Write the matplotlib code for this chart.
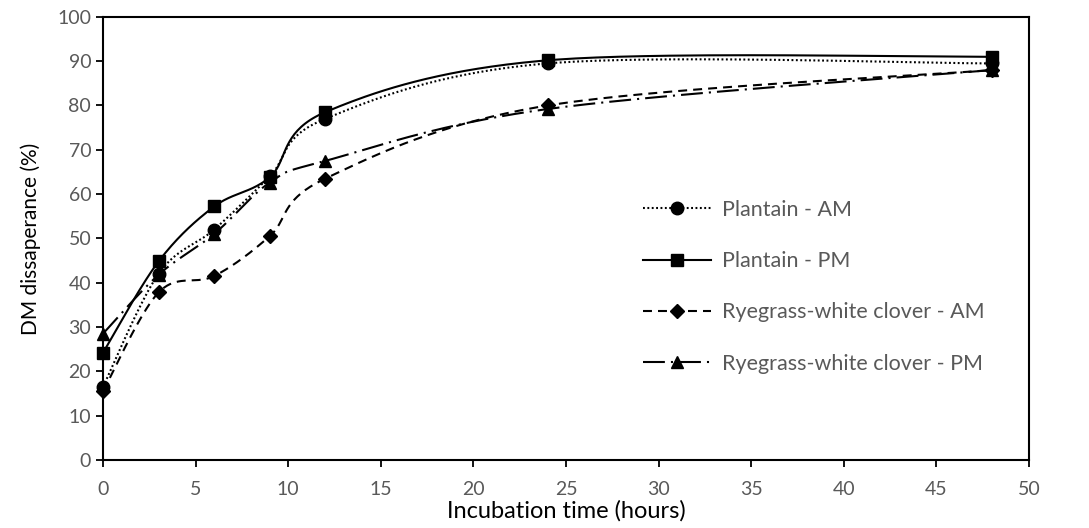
import numpy as np
import matplotlib
matplotlib.use("Agg")
import matplotlib.pyplot as plt
from matplotlib.lines import Line2D

# incubation times (hours)
hours = [0, 3, 6, 9, 12, 24, 48]

plantain_am = [16.5, 42.0, 52.0, 64.0, 77.0, 89.5, 89.5]
plantain_pm = [24.2, 44.8, 57.2, 63.8, 78.5, 90.2, 91.0]
ryegrass_am = [15.5, 37.8, 41.5, 50.5, 63.5, 80.0, 88.0]
ryegrass_pm = [28.5, 41.8, 51.0, 62.6, 67.5, 79.2, 88.0]

labels = ["Plantain - AM", "Plantain - PM",
          "Ryegrass-white clover - AM", "Ryegrass-white clover - PM"]
x_ticks = list(range(0, 51, 5))
y_ticks = list(range(0, 101, 10))


def smooth(xs, ys, n=40):
    # Excel-like smoothed line: Catmull-Rom Bezier segments
    p = np.column_stack([xs, ys]).astype(float)
    p = np.vstack([p[0], p, p[-1]])
    out = []
    t = np.linspace(0, 1, n)[:, None]
    for i in range(1, len(p) - 2):
        p0, p1, p2, p3 = p[i - 1], p[i], p[i + 1], p[i + 2]
        b1 = p1 + (p2 - p0) / 6.0
        b2 = p2 - (p3 - p1) / 6.0
        seg = ((1 - t) ** 3) * p1 + 3 * ((1 - t) ** 2) * t * b1 \
            + 3 * (1 - t) * t ** 2 * b2 + t ** 3 * p2
        out.append(seg if i == 1 else seg[1:])
    out = np.vstack(out)
    return out[:, 0], out[:, 1]


plt.rcParams["font.family"] = ["Lato", "DejaVu Sans"]
fig = plt.figure(figsize=(10.89, 5.28), dpi=100)
ax = fig.add_axes([0.0946, 0.129, 0.8504, 0.839])

lw = 1.5
styles = [
    dict(series=plantain_am, marker="o", ms=9, dashes=(0.9, 1.2)),
    dict(series=plantain_pm, marker="s", ms=9, dashes=None),
    dict(series=ryegrass_am, marker="D", ms=7, dashes=(4.3, 2.9)),
    dict(series=ryegrass_pm, marker="^", ms=9, dashes=(10.5, 2.9, 1.0, 2.9)),
]

handles = []
for st, lab in zip(styles, labels):
    sx, sy = smooth(hours, st["series"])
    ln, = ax.plot(sx, sy, color="black", lw=lw, solid_capstyle="butt",
                  dash_capstyle="butt", zorder=3)
    if st["dashes"] is not None:
        ln.set_dashes(st["dashes"])
    ax.plot(hours, st["series"], linestyle="none", marker=st["marker"],
            ms=st["ms"], color="black", zorder=4, clip_on=False)
    h = Line2D([], [], color="black", lw=lw, marker=st["marker"], ms=st["ms"])
    if st["dashes"] is not None:
        h.set_dashes(st["dashes"])
    handles.append(h)

ax.set_xlim(0, 50)
ax.set_ylim(0, 100)
ax.set_xticks(x_ticks)
ax.set_yticks(y_ticks)
for s in ax.spines.values():
    s.set_linewidth(1.5)
    s.set_color("black")
ax.tick_params(direction="out", length=5, width=1.3, colors="black",
               labelcolor="#595959", labelsize=14)
ax.tick_params(axis="x", pad=10)

ax.set_xlabel("Incubation time (hours)", fontsize=17)
ax.xaxis.set_label_coords(0.5, -0.09)
ax.set_ylabel("DM dissaperance (%)", fontsize=15, labelpad=12)

leg = fig.legend(handles, labels, loc="center left",
                 bbox_to_anchor=(0.590, 0.457), frameon=False,
                 fontsize=15.5, labelcolor="#595959", handlelength=3.2,
                 handletextpad=0.5, labelspacing=1.45, borderpad=0,
                 borderaxespad=0)

fig.savefig("out.png", dpi=100)
